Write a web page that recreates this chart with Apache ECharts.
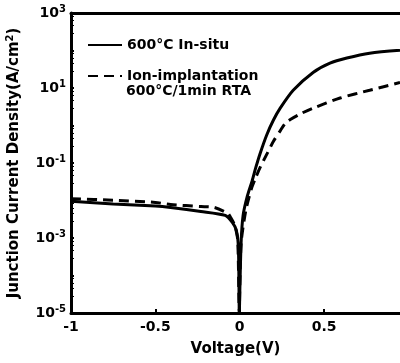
<!DOCTYPE html>
<html>
<head>
<meta charset="utf-8">
<script src="https://cdn.jsdelivr.net/npm/echarts@6/dist/echarts.min.js"></script>
<style>
  html, body { margin: 0; padding: 0; background: #fff; }
  #chart { width: 400px; height: 363px; }
</style>
</head>
<body>
<div id="chart"></div>
<script>
// voltage (V) / current density (A/cm^2)
const insituV = [-1, -0.75, -0.5, -0.41, -0.23, -0.086, -0.044, -0.02, -0.008, -0.002, 0.001, 0.008, 0.02, 0.045, 0.074, 0.095, 0.121, 0.16, 0.2, 0.24, 0.317, 0.435, 0.535, 0.635, 0.77, 0.95];
const insituJ = [9.5e-3, 8.1e-3, 7.1e-3, 6.5e-3, 5.1e-3, 4.0e-3, 2.6e-3, 1.6e-3, 6e-4, 1e-5, 1e-5, 7e-4, 4e-3, 1.3e-2, 3.4e-2, 7.5e-2, 0.18, 0.56, 1.4, 2.9, 8.7, 26, 46, 63, 85, 102];

const implantV = [-1, -0.75, -0.5, -0.41, -0.23, -0.15, -0.07, -0.055, -0.03, -0.012, -0.002, 0.001, 0.008, 0.036, 0.07, 0.092, 0.121, 0.163, 0.2, 0.24, 0.27, 0.3, 0.36, 0.435, 0.595, 0.77, 0.95];
const implantJ = [1.12e-2, 1.02e-2, 8.9e-3, 7.8e-3, 6.9e-3, 6.5e-3, 4.5e-3, 3.6e-3, 2.2e-3, 9e-4, 1e-5, 1e-5, 7e-4, 5.4e-3, 2.1e-2, 3.8e-2, 7.6e-2, 0.18, 0.38, 0.72, 1.15, 1.45, 2.05, 2.9, 5.4, 8.7, 14];

const xTicks = [-1, -0.5, 0, 0.5];
const yLabelExps = [-5, -3, -1, 1, 3];

const font = 'DejaVu Sans';
const chart = echarts.init(document.getElementById('chart'));

const pair = (xs, ys) => xs.map((x, i) => [x, ys[i]]);

const option = {
  backgroundColor: '#fff',
  animation: false,
  grid: { left: 71, right: 0, top: 13, bottom: 50, outerBoundsMode: 'none' },
  legend: {
    orient: 'vertical',
    left: 87,
    top: 38,
    padding: 0,
    itemWidth: 34,
    itemHeight: 14,
    itemGap: 17,
    itemStyle: { opacity: 0 },
    textStyle: { fontFamily: font, fontSize: 14, fontWeight: 'bold', color: '#000' },
    data: ['600°C In-situ', 'Ion-implantation']
  },
  graphic: [{
    type: 'text',
    left: 126,
    top: 84,
    style: { text: '600°C/1min RTA', fontFamily: font, fontSize: 14, fontWeight: 'bold', fill: '#000' }
  }],
  xAxis: [{
    type: 'value',
    min: -1,
    max: 0.95,
    interval: 0.5,
    name: 'Voltage(V)',
    nameLocation: 'middle',
    nameGap: 29,
    nameTextStyle: { fontFamily: font, fontSize: 15, fontWeight: 'bold', color: '#000' },
    axisLine: { lineStyle: { color: '#000', width: 3 } },
    axisTick: { inside: true, length: 4, lineStyle: { width: 2, color: '#000' } },
    axisLabel: {
      showMaxLabel: false,
      margin: 7,
      fontFamily: font, fontSize: 14, fontWeight: 'bold', color: '#000',
      formatter: v => xTicks.includes(v) ? String(v) : ''
    },
    splitLine: { show: false }
  }, {
    type: 'value',
    position: 'top',
    min: -1,
    max: 0.95,
    axisLine: { show: true, onZero: false, lineStyle: { color: '#000', width: 3 } },
    axisTick: { show: false },
    axisLabel: { show: false },
    splitLine: { show: false }
  }],
  yAxis: {
    type: 'log',
    logBase: 10,
    min: 1e-5,
    max: 1e3,
    interval: 1,
    name: '{a|Junction Current Density(A/cm}{s|2}{a|)}',
    nameLocation: 'middle',
    nameGap: 48,
    nameTextStyle: {
      rich: {
        a: { fontFamily: font, fontSize: 15, fontWeight: 'bold', color: '#000' },
        s: { fontFamily: font, fontSize: 10, fontWeight: 'bold', color: '#000', verticalAlign: 'top', padding: [0, 0, 8, 0] }
      }
    },
    axisLine: { onZero: false, lineStyle: { color: '#000', width: 3 } },
    axisTick: { inside: true, length: 3, lineStyle: { width: 2, color: '#000' } },
    minorTick: { show: true, splitNumber: 5, length: 3, lineStyle: { width: 1, color: '#000' } },
    axisLabel: {
      margin: 5,
      formatter: v => {
        const e = Math.round(Math.log10(v));
        return yLabelExps.includes(e) ? '{b|10}{s|' + e + '}' : '';
      },
      rich: {
        b: { fontFamily: font, fontSize: 14, fontWeight: 'bold', color: '#000' },
        s: { fontFamily: font, fontSize: 10, fontWeight: 'bold', color: '#000', verticalAlign: 'top', padding: [0, 0, 8, 0] }
      }
    },
    splitLine: { show: false }
  },
  series: [{
    name: '600°C In-situ',
    type: 'line',
    data: pair(insituV, insituJ),
    symbol: 'none',
    smooth: 0.25,
    lineStyle: { color: '#000', width: 3 },
    itemStyle: { color: '#000' }
  }, {
    name: 'Ion-implantation',
    type: 'line',
    data: pair(implantV, implantJ),
    symbol: 'none',
    smooth: 0.25,
    lineStyle: { color: '#000', width: 3, type: [10, 6] },
    itemStyle: { color: '#000' }
  }]
};

chart.setOption(option);
</script>
</body>
</html>
